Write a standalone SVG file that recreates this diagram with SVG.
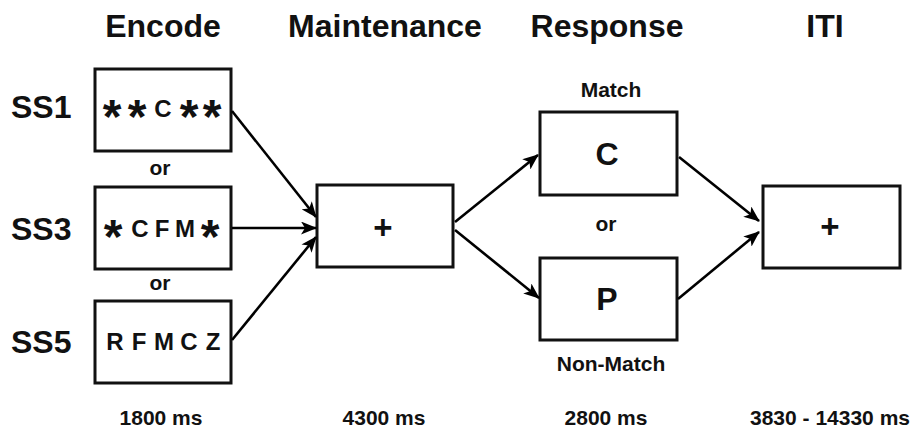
<svg xmlns="http://www.w3.org/2000/svg" width="917" height="432" viewBox="0 0 917 432">
<defs>
<marker id="ah" viewBox="0 0 16 13" refX="15" refY="6.5" markerWidth="16" markerHeight="13" markerUnits="userSpaceOnUse" orient="auto">
<path d="M0,0 L16,6.5 L0,13 L4,6.5 Z" fill="#000"/>
</marker>
<style>
text{font-family:"Liberation Sans",Arial,sans-serif;font-weight:bold;fill:#111;text-anchor:middle}
.h{font-size:32px}
.ss{font-size:32px;text-anchor:start}
.t{font-size:21px}
.box{fill:#fff;stroke:#111;stroke-width:3}
.in{font-size:24px}
.ast{font-size:48px}
.big{font-size:32px}
.plus{font-size:33px}
.c{stroke:#000;stroke-width:2.6;fill:none;marker-end:url(#ah)}
</style>
</defs>
<rect width="917" height="432" fill="#fff"/>
<g id="headers">
<text class="h" x="163" y="37">Encode</text>
<text class="h" x="385" y="37">Maintenance</text>
<text class="h" x="607" y="37">Response</text>
<text class="h" x="825" y="37">ITI</text>
</g>
<g id="ss1"><text class="ss" x="11" y="118">SS1</text><rect class="box" x="95" y="69" width="136" height="82"/>
<text class="in" y="117"><tspan class="ast" x="112" y="133">*</tspan><tspan class="ast" x="137" y="133">*</tspan><tspan x="163" y="117">C</tspan><tspan class="ast" x="189" y="133">*</tspan><tspan class="ast" x="212" y="133">*</tspan></text></g>
<text class="t" x="160" y="175">or</text>
<g id="ss3"><text class="ss" x="11" y="240">SS3</text><rect class="box" x="95" y="187" width="136" height="82"/>
<text class="in" y="237"><tspan class="ast" x="113" y="253">*</tspan><tspan x="140" y="237">C</tspan><tspan x="162" y="237">F</tspan><tspan x="185" y="237">M</tspan><tspan class="ast" x="210" y="253">*</tspan></text></g>
<text class="t" x="160" y="290">or</text>
<g id="ss5"><text class="ss" x="11" y="353">SS5</text><rect class="box" x="95" y="301" width="136" height="82"/>
<text class="in" y="350"><tspan x="115" y="350">R</tspan><tspan x="139" y="350">F</tspan><tspan x="164" y="350">M</tspan><tspan x="189" y="350">C</tspan><tspan x="213" y="350">Z</tspan></text></g>
<g id="maint"><rect class="box" x="317" y="185" width="136" height="82"/><text class="plus" x="383" y="239">+</text></g>
<text class="t" x="611" y="97">Match</text>
<g id="respC"><rect class="box" x="540" y="112" width="137" height="83"/><text class="big" x="607" y="165">C</text></g>
<text class="t" x="606" y="231">or</text>
<g id="respP"><rect class="box" x="540" y="258" width="137" height="82"/><text class="big" x="607" y="310">P</text></g>
<text class="t" x="611" y="371">Non-Match</text>
<g id="iti"><rect class="box" x="763" y="186" width="137" height="82"/><text class="plus" x="830" y="238">+</text></g>
<g id="connectors">
<line class="c" x1="232" y1="111" x2="316" y2="217"/>
<line class="c" x1="232" y1="228" x2="316" y2="228"/>
<line class="c" x1="232" y1="340" x2="316" y2="237"/>
<line class="c" x1="455" y1="222" x2="538" y2="155"/>
<line class="c" x1="455" y1="230" x2="539" y2="298"/>
<line class="c" x1="679" y1="157" x2="759" y2="221"/>
<line class="c" x1="678" y1="299" x2="759" y2="232"/>
</g>
<g id="durations">
<text class="t" x="161" y="425">1800 ms</text>
<text class="t" x="384" y="425">4300 ms</text>
<text class="t" x="606" y="425">2800 ms</text>
<text class="t" x="830" y="425">3830 - 14330 ms</text>
</g>
</svg>
